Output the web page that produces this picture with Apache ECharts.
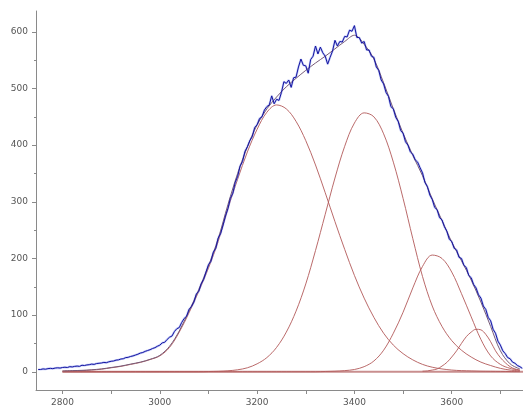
<!DOCTYPE html>
<html>
<head>
<meta charset="utf-8">
<script src="https://cdn.jsdelivr.net/npm/echarts@6/dist/echarts.min.js"></script>
<style>html,body{margin:0;padding:0;background:#fff}#c{width:523px;height:407px}</style>
</head>
<body>
<div id="c"></div>
<script>
// ---- data ----
const spectrumStart = 2750, spectrumStep = 5;
const spectrumValues = [
  4, 4, 5, 4.5, 5.5, 6, 5.5, 6.5, 7, 6.5,
  7.5, 8, 7.5, 9, 8.5, 9.5, 10, 9.5, 11.5, 11,
  12, 12.5, 13.5, 13, 14.5, 15, 15.5, 16.5, 16, 17.5,
  18.5, 19, 20.5, 21, 22.5, 23, 25, 25.5, 27, 28,
  29.5, 31, 33, 34, 36, 37.5, 39, 41, 42.5, 45,
  47, 51, 52, 57, 61, 63, 71, 76, 78, 87,
  94, 98, 110, 115, 123, 137, 142, 155, 163, 176,
  189, 195, 211, 218, 236, 244, 259, 275, 288, 306,
  315, 334, 345, 363, 371, 389, 397, 408, 415, 431,
  436, 447, 450, 462, 468, 471, 487, 473, 481, 479,
  493, 512, 509, 515, 502, 519, 520, 538, 552, 541,
  540, 527, 551, 557, 575, 561, 573, 563, 557, 543,
  555, 566, 585, 575, 583, 582, 592, 591, 603, 601,
  611, 590, 590, 580, 583, 568, 568, 557, 555, 538,
  532, 515, 508, 493, 486, 468, 464, 449, 442, 426,
  421, 406, 400, 388, 384, 374, 370, 360, 351, 334,
  327, 312, 304, 290, 286, 272, 268, 256, 248, 234,
  230, 218, 215, 202, 200, 188, 184, 170, 166, 154,
  148, 136, 130, 116, 110, 96, 90, 75, 68, 54,
  47, 37, 32, 25, 23, 17, 15, 11, 9, 6
];

const fitWavenumbers = [
  2800, 2820, 2840, 2860, 2880, 2900, 2920, 2940, 2960, 2980,
  3000, 3020, 3040, 3060, 3080, 3100, 3120, 3140, 3160, 3180,
  3200, 3220, 3240, 3260, 3280, 3300, 3320, 3340, 3360, 3380,
  3400, 3420, 3440, 3460, 3480, 3500, 3520, 3540, 3560, 3580,
  3600, 3620, 3640, 3660, 3680, 3700, 3720, 3740
];
const fitValues = [
  1.5, 2, 2.5, 3.5, 5, 7.5, 10, 13.5, 17, 22,
  29, 45, 72, 107, 145, 187, 235, 295, 350, 397,
  436, 464, 485, 503, 518, 532, 545, 557, 570, 583,
  594, 578, 552, 510, 464, 421, 382, 346, 305, 267,
  229, 196, 162, 123, 80, 37, 14, 5
];
const peak1Values = [
  1, 1.5, 2, 3, 4.5, 7, 9.5, 13, 16.5, 21.5,
  28, 43, 70, 104, 142, 183, 230, 288, 340, 388,
  428, 458, 471, 464, 442, 408, 365, 316, 265, 216,
  170, 130, 96, 68, 47, 32, 21, 13, 8, 5,
  3, 2, 1.5, 1, 0.8, 0.6, 0.4, 0.3
];
const peak2Values = [
  0, 0, 0, 0, 0, 0, 0, 0, 0, 0,
  0, 0, 0, 0, 0, 0.4, 0.8, 1.7, 3.5, 7,
  14, 25, 43, 70, 107, 155, 214, 278, 342, 398,
  439, 457, 450, 420, 370, 306, 235, 168, 116, 80,
  55, 38, 26, 17, 11, 6, 3, 1.5
];
const peak3Values = [
  0, 0, 0, 0, 0, 0, 0, 0, 0, 0,
  0, 0, 0, 0, 0, 0, 0, 0, 0, 0,
  0, 0, 0, 0, 0, 0, 0, 0.5, 1, 2,
  4, 9, 19, 38, 68, 105, 148, 186, 206, 200,
  176, 138, 97, 57, 28, 13, 6, 2.5
];
const peak4Wavenumbers = [
  3540, 3550, 3560, 3570, 3580, 3590, 3600, 3610, 3620, 3630,
  3640, 3650, 3660, 3670, 3680, 3690, 3700, 3710, 3720, 3730, 3740
];
const peak4Values = [
  1, 1.5, 3, 5, 10, 16.5, 26, 37, 50, 62,
  70, 75, 74, 66, 53, 37, 25, 16, 9, 5, 3
];
const baselineWavenumbers = [2800, 3747];
const baselineValues = [0, 0];

const xMajorTicks = [2800, 3000, 3200, 3400, 3600];
const xAllTicks = [2800, 2900, 3000, 3100, 3200, 3300, 3400, 3500, 3600, 3700];
const yMajorTicks = [0, 100, 200, 300, 400, 500, 600];
const yMinorTicks = [50, 150, 250, 350, 450, 550];

// ---- build series data ----
const zip = (xs, ys) => xs.map((x, i) => [x, ys[i]]);
const spectrumData = spectrumValues.map((v, i) => [spectrumStart + i * spectrumStep, v]);

const chart = echarts.init(document.getElementById('c'), null, {renderer: 'canvas'});
const axisGrey = '#8a8a8a';
const labelStyle = {color: '#555', fontSize: 9, fontFamily: 'DejaVu Sans', formatter: v => String(v)};
const comp = (name, data) => ({
  name, type: 'line', data, showSymbol: false, smooth: 0.35, silent: true,
  lineStyle: {color: '#b35a5a', width: 1, opacity: 0.9}, z: 2
});

chart.setOption({
  animation: false,
  backgroundColor: '#fff',
  grid: {left: 36, right: 0, top: 11, bottom: 16, containLabel: false},
  xAxis: {
    type: 'value', min: 2745.5, max: 3746.5,
    axisLine: {show: true, onZero: false, lineStyle: {color: axisGrey, width: 1}},
    axisTick: {show: true, customValues: xAllTicks, length: 4, lineStyle: {color: axisGrey}},
    axisLabel: {customValues: xMajorTicks, margin: 8, ...labelStyle},
    splitLine: {show: false}
  },
  yAxis: [{
    type: 'value', min: -32.2, max: 636.8, position: 'left',
    axisLine: {show: true, onZero: false, lineStyle: {color: axisGrey, width: 1}},
    axisTick: {show: true, customValues: yMajorTicks, length: 4, lineStyle: {color: axisGrey}},
    axisLabel: {customValues: yMajorTicks, margin: 8, ...labelStyle},
    splitLine: {show: false}
  }, {
    type: 'value', min: -32.2, max: 636.8, position: 'left',
    axisLine: {show: false},
    axisTick: {show: true, customValues: yMinorTicks, length: 2, lineStyle: {color: axisGrey}},
    axisLabel: {show: false},
    splitLine: {show: false}
  }],
  series: [
    {name: 'baseline', type: 'line', data: zip(baselineWavenumbers, baselineValues), showSymbol: false, silent: true,
     lineStyle: {color: '#c98e8e', width: 2}, z: 1},
    comp('peak1', zip(fitWavenumbers, peak1Values)),
    comp('peak2', zip(fitWavenumbers, peak2Values)),
    comp('peak3', zip(fitWavenumbers, peak3Values)),
    comp('peak4', zip(peak4Wavenumbers, peak4Values)),
    {name: 'spectrum-halo', type: 'line', data: spectrumData, showSymbol: false, silent: true,
     lineStyle: {color: '#6a7cec', width: 2.2, opacity: 0.4}, z: 3},
    {name: 'fit', type: 'line', data: zip(fitWavenumbers, fitValues), showSymbol: false, smooth: 0.35, silent: true,
     lineStyle: {color: '#765a78', width: 1}, z: 4},
    {name: 'spectrum', type: 'line', data: spectrumData, showSymbol: false, silent: true,
     lineStyle: {color: '#1414a0', width: 1}, z: 5}
  ]
});
</script>
</body>
</html>
